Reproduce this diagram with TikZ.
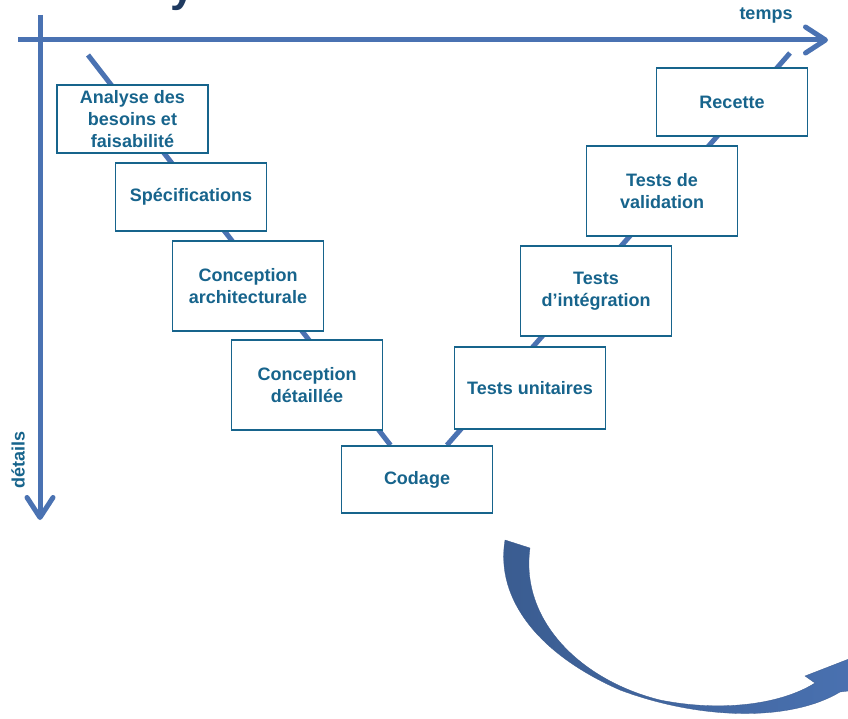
\documentclass[tikz,border=0pt]{standalone}
\usepackage{fontspec}
\setmainfont{Liberation Sans}
\usetikzlibrary{arrows.meta,backgrounds,positioning}
\definecolor{axisblue}{HTML}{4A72B2}
\definecolor{boxteal}{HTML}{17648C}
\definecolor{arrowdark}{HTML}{3A5C90}
\definecolor{titlenavy}{HTML}{1F3A60}

\tikzset{
    axisline/.style={axisblue, line width=5pt, -{Straight Barb[length=20pt,width=26pt,round]}},
    vline/.style={axisblue, line width=5pt},
    phase/.style={draw=boxteal, line width=1.6pt, fill=white, text=boxteal,
        font=\bfseries\fontsize{18}{22}\selectfont, align=center,
        minimum width=151pt, inner sep=0pt},
    axislabel/.style={text=boxteal, font=\bfseries\fontsize{18}{22}\selectfont}
}

\begin{document}
\begin{tikzpicture}[x=1pt,y=-1pt]
    \useasboundingbox (0,0) rectangle (848,719);
    \clip (0,0) rectangle (848,719);

    % axes
    \coordinate (tempsstart) at (18,40);
    \coordinate (tempsend) at (828,40);
    \coordinate (detstart) at (40,15);
    \coordinate (detend) at (40,520);
    \coordinate (vtopl) at (88,55);
    \coordinate (vtopr) at (790,53);

    % piece of the cut title
    \node[text=titlenavy, font=\bfseries\fontsize{44}{44}\selectfont, anchor=base] (titlefrag) at (183,2) {y};

    % left branch
    \node[phase, minimum height=68pt] (analyse) at (132.5,119) {Analyse des\\besoins et\\faisabilité};
    \node[phase, minimum height=68pt] (specif) at (191,197) {Spécifications};
    \node[phase, minimum height=90pt] (concarch) at (248,286) {Conception\\architecturale};
    \node[phase, minimum height=90pt] (concdet) at (307,385) {Conception\\détaillée};
    \node[phase, minimum height=67pt] (codage) at (417,479.5) {Codage};
    % right branch
    \node[phase, minimum height=82pt] (tunit) at (530,388) {Tests unitaires};
    \node[phase, minimum height=90pt] (tinteg) at (596,291) {Tests\\d’intégration};
    \node[phase, minimum height=90pt] (tvalid) at (662,191) {Tests de\\validation};
    \node[phase, minimum height=68pt] (recette) at (732,102) {Recette};

    \node[axislabel] (temps) at (766,15) {temps};
    \node[axislabel, rotate=90] (details) at (18,460) {détails};

    \begin{pgfonlayer}{background}
        \fill[white] (0,0) rectangle (848,719);
        \draw[vline] (vtopl) -- (codage);
        \draw[vline] (vtopr) -- (codage);
    \end{pgfonlayer}

    \draw[axisline] (tempsstart) -- (tempsend);
    \draw[axisline] (detstart) -- (detend);

    % big curved arrow
    \shade[left color=arrowdark, right color=axisblue, draw=axisblue!80!black, line width=0.3pt]
        (505,540) -- (530,548)
        .. controls (520,620) and (580,680) .. (660,700)
        .. controls (720,712) and (780,705) .. (815,683)
        -- (805,676) -- (872,650) -- (856,690) -- (840,692)
        .. controls (790,722) and (700,720) .. (620,690)
        .. controls (540,655) and (495,600) .. (505,540) -- cycle;
\end{tikzpicture}
\end{document}
